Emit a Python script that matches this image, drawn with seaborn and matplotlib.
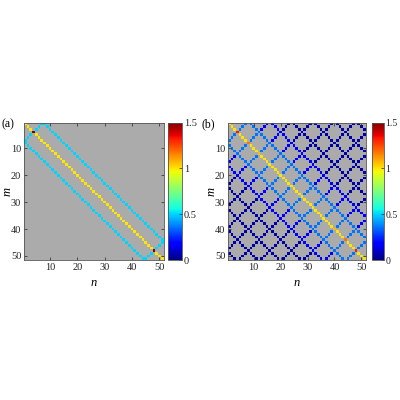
import numpy as np
import pandas as pd
import matplotlib
matplotlib.use("Agg")
import matplotlib.pyplot as plt
import seaborn as sns

plt.rcParams['font.family'] = ['Liberation Serif', 'DejaVu Serif']

# ---------------- data ----------------
N = 51
tick_values = [10, 20, 30, 40, 50]
cbar_ticks = [0, 0.5, 1, 1.5]
cbar_labels = ['0', '0.5', '1', '1.5']

# panel (a): main diagonal, two bands |n-m| = 7, reflected anti-diagonals n+m = 8, 96
diag_value_a = 1.0
band_offsets_a = [-7, 7]
band_value_a = 0.5
anti_sums_a = [8, 96]
anti_value_a = 0.5
peak_cells_a = [4, 48]
peak_values_a = [1.5, 1.5]

# panel (b): main diagonal plus diamond lattice (n-m = 8k, n+m = 8k)
diag_value_b = 1.0
lattice_offsets_b = [-48, -40, -32, -24, -16, -8, 8, 16, 24, 32, 40, 48]
lattice_sums_b = [8, 16, 24, 32, 40, 48, 56, 64, 72, 80, 88, 96]
lattice_dist_limits_b = [8, 16, 100]        # |n-m| ranges
lattice_values_b = [0.36, 0.17, 0.05]       # values inside those ranges
peak_cells_b = [4, 8, 12, 40, 44, 48]
peak_values_b = [1.33, 1.18, 1.07, 1.07, 1.18, 1.33]


def build_a():
    M = np.zeros((N, N))
    for i in range(N):
        for j in range(N):
            m, n = i + 1, j + 1
            if n - m in band_offsets_a:
                M[i, j] = band_value_a
            if n + m in anti_sums_a:
                M[i, j] = anti_value_a
            if n == m:
                M[i, j] = diag_value_a
    for c, v in zip(peak_cells_a, peak_values_a):
        M[c - 1, c - 1] = v
    return M


def build_b():
    M = np.zeros((N, N))
    for i in range(N):
        for j in range(N):
            m, n = i + 1, j + 1
            if (n - m) in lattice_offsets_b or (n + m) in lattice_sums_b:
                d = abs(n - m)
                for lim, v in zip(lattice_dist_limits_b, lattice_values_b):
                    if d <= lim:
                        M[i, j] = v
                        break
            if n == m:
                M[i, j] = diag_value_b
    for c, v in zip(peak_cells_b, peak_values_b):
        M[c - 1, c - 1] = v
    return M


mats = [build_a(), build_b()]
labels = ['(a)', '(b)']

fig = plt.figure(figsize=(4, 4), dpi=100)
W = 400.0
ax_pos = [(24, 139.5), (228, 137.5)]
cb_pos = [(167.7, 14), (371.5, 12.5)]
top_px, bot_px = 122.7, 260.0
gray = '#ababab'

for k in range(2):
    M = mats[k]
    left, width = ax_pos[k]
    height = bot_px - top_px
    ax = fig.add_axes([left / W, 1 - bot_px / W, width / W, height / W])
    cl, cw = cb_pos[k]
    cax = fig.add_axes([cl / W, 1 - bot_px / W, cw / W, height / W])
    df = pd.DataFrame(M, index=range(1, N + 1), columns=range(1, N + 1))
    sns.heatmap(df, ax=ax, cbar_ax=cax, cmap='jet', vmin=0, vmax=1.5,
                mask=(M == 0), xticklabels=False, yticklabels=False,
                cbar_kws={'ticks': cbar_ticks})
    ax.set_facecolor(gray)
    ax.set_xlim(0, N)
    ax.set_ylim(N, 0)
    ax.set_xticks([v - 0.5 for v in tick_values])
    ax.set_xticklabels([str(v) for v in tick_values])
    ax.set_yticks([v - 0.5 for v in tick_values])
    ax.set_yticklabels([str(v) for v in tick_values], rotation=0)
    ax.tick_params(direction='in', top=True, right=True, length=2.5,
                   width=0.5, labelsize=7.5, pad=2, colors='#222222')
    for s in ax.spines.values():
        s.set_visible(True)
        s.set_linewidth(0.6)
        s.set_color('#555555')
    ax.set_xlabel('n', fontsize=9, fontstyle='italic')
    ax.set_ylabel('m', fontsize=9, fontstyle='italic')
    ax.xaxis.set_label_coords(0.5, -17 / height)
    ax.yaxis.set_label_coords(-10 / width, 0.5)

    cbar = ax.collections[0].colorbar
    cbar.outline.set_linewidth(0.6)
    cbar.outline.set_edgecolor('#555555')
    cbar.set_ticks(cbar_ticks)
    cbar.set_ticklabels(cbar_labels)
    cax.tick_params(direction='in', length=2, width=0.5,
                    labelsize=7.5 if k == 0 else 7, pad=1.5 if k == 0 else 1,
                    colors='#222222')

    fig.text(1 / W if k == 0 else 202 / W, 1 - 124 / W,
             labels[k], fontsize=8.5, ha='left', va='center')

fig.savefig('out.png', dpi=100)
